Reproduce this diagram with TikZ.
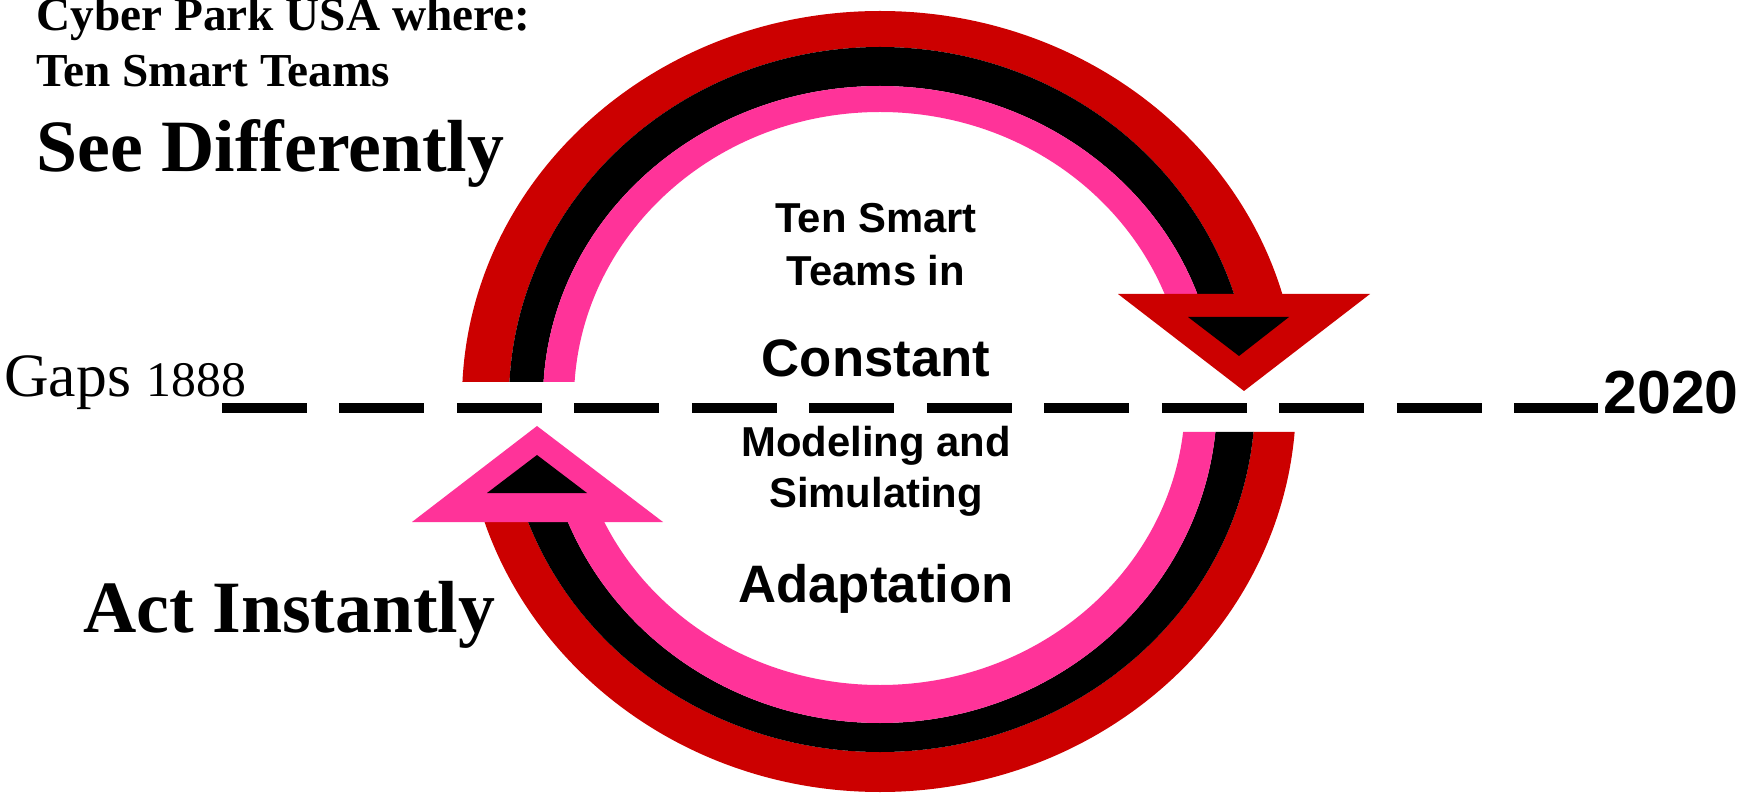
\documentclass[tikz,border=0pt]{standalone}
\usepackage{fontspec}
\setmainfont{Liberation Serif}
\setsansfont{Liberation Sans}
\definecolor{ringred}{RGB}{204,0,0}
\definecolor{ringpink}{RGB}{255,51,153}
\tikzset{%
  headline/.style={inner sep=0,anchor=base west,font=\bfseries\fontsize{26.9}{32}\selectfont},
  bigline/.style={inner sep=0,anchor=base west,font=\bfseries\fontsize{42}{48}\selectfont},
  loopsmall/.style={inner sep=0,anchor=base,font=\sffamily\bfseries\fontsize{23.8}{28}\selectfont},
  loopbig/.style={inner sep=0,anchor=base,font=\sffamily\bfseries\fontsize{30}{36}\selectfont},
  timeline/.style={line width=0.22cm,dash pattern=on 1.7cm off 0.65cm}
}

\begin{document}
\begin{tikzpicture}[x=0.02cm,y=-0.02cm]
    \useasboundingbox (0,0) rectangle (1740,793);
    % upper arc
    \begin{scope}
      \clip (0,-5) -- (1740,-5) -- (1740,297) -- (880,297) -- (880,382) -- (0,382) -- cycle;
      \fill[ringred,even odd rule] (880,400) ellipse [x radius=418,y radius=389]
                                   (880,400) ellipse [x radius=371,y radius=353];
      \fill[black,even odd rule]   (880,400) ellipse [x radius=371,y radius=353]
                                   (880,400) ellipse [x radius=337,y radius=314];
      \fill[ringpink,even odd rule] (880,400) ellipse [x radius=337,y radius=314]
                                   (880,400) ellipse [x radius=306,y radius=288];
    \end{scope}
    % lower arc
    \begin{scope}
      \clip (0,519) -- (880,519) -- (880,432) -- (1740,432) -- (1740,800) -- (0,800) -- cycle;
      \fill[ringred,even odd rule] (880,400) ellipse [x radius=416,y radius=392]
                                   (880,400) ellipse [x radius=375,y radius=352];
      \fill[black,even odd rule]   (880,400) ellipse [x radius=375,y radius=352]
                                   (880,400) ellipse [x radius=337,y radius=323];
      \fill[ringpink,even odd rule] (880,400) ellipse [x radius=337,y radius=323]
                                   (880,400) ellipse [x radius=305,y radius=285];
    \end{scope}
    % heads
    \fill[ringred] (1118,294) -- (1370,294) -- (1244,391) -- cycle;
    \fill[black] (1188,317) -- (1289,317) -- (1239,356) -- cycle;
    \fill[ringpink] (412,522) -- (663,522) -- (537,426) -- cycle;
    \fill[black] (487,493) -- (587,493) -- (537,455) -- cycle;

    \node[headline] (cyber) at (36,31) {Cyber Park USA where:};
    \node[headline] (teams) at (36,87) {Ten Smart Teams};
    \node[bigline] (see) at (36,172) {See Differently};
    \node[bigline] (act) at (83,632) {Act Instantly};
    \node[inner sep=0,anchor=base west] (gaps) at (4,397)
      {\fontsize{35.1}{40}\selectfont Gaps {\fontsize{28.3}{32}\selectfont 1888}};
    \node[inner sep=0,anchor=base east,font=\sffamily\bfseries\fontsize{34.6}{40}\selectfont] (year) at (1739,414) {2020};

    \node[loopsmall] (tensmart) at (876,233) {Ten Smart};
    \node[loopsmall] (teamsin) at (876,286) {Teams in};
    \node[loopbig] (constant) at (876,377) {Constant};
    \node[loopsmall] (modeling) at (876,457) {Modeling and};
    \node[loopsmall] (simulating) at (876,507) {Simulating};
    \node[loopbig] (adaptation) at (876,602) {Adaptation};

    \coordinate (tstart) at (222,408);
    \coordinate (tend) at (1598,408);
    \draw[timeline] (tstart) -- (tend);
  \end{tikzpicture}
\end{document}
